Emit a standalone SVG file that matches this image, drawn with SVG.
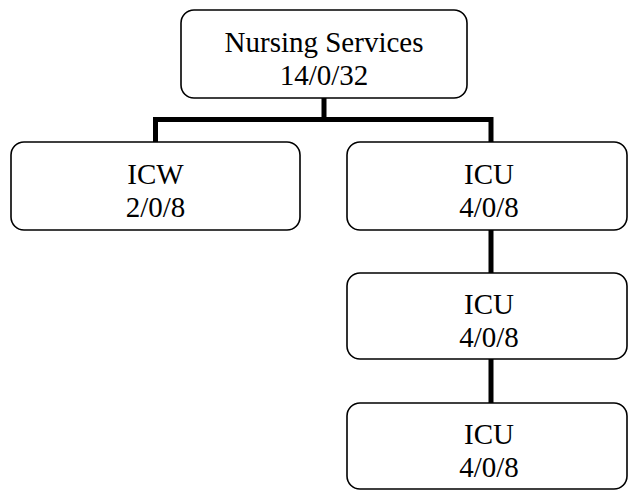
<svg xmlns="http://www.w3.org/2000/svg" width="629" height="491" viewBox="0 0 629 491">
<style>
.box{fill:#fff;stroke:#000;stroke-width:1.6}
.t{font-family:"Liberation Serif","Times New Roman",serif;font-size:29px;fill:#000;text-anchor:middle}
.c{stroke:#000;stroke-width:5;fill:none}
</style>
<rect width="629" height="491" fill="#fff"/>
<g id="connectors">
<path class="c" d="M324 98V119.5M155.5 119.5H491M155.5 117V142M491 117V142"/>
<path class="c" d="M491 230V273M491 359V403"/>
</g>
<g id="nursing">
<rect class="box" x="181" y="10" width="286" height="88" rx="13"/>
<text class="t" x="324" y="52">Nursing Services</text>
<text class="t" x="324" y="85">14/0/32</text>
</g>
<g id="icw">
<rect class="box" x="11" y="142" width="289" height="88" rx="13"/>
<text class="t" x="155.5" y="184">ICW</text>
<text class="t" x="155.5" y="217">2/0/8</text>
</g>
<g id="icu1">
<rect class="box" x="347" y="142" width="280" height="88" rx="13"/>
<text class="t" x="489" y="184">ICU</text>
<text class="t" x="489" y="217">4/0/8</text>
</g>
<g id="icu2">
<rect class="box" x="347" y="273" width="280" height="86" rx="13"/>
<text class="t" x="489" y="314">ICU</text>
<text class="t" x="489" y="347">4/0/8</text>
</g>
<g id="icu3">
<rect class="box" x="347" y="403" width="280" height="86" rx="13"/>
<text class="t" x="489" y="444">ICU</text>
<text class="t" x="489" y="477">4/0/8</text>
</g>
</svg>
